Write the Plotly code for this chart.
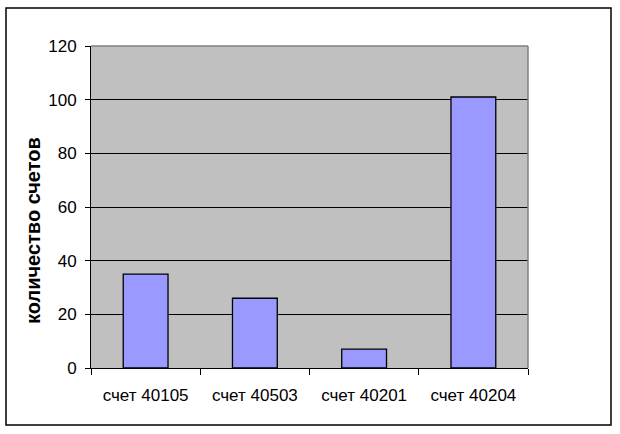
import plotly.graph_objects as go

categories = ["счет 40105", "счет 40503", "счет 40201", "счет 40204"]
values = [35, 26, 7, 101]
y_ticks = [0, 20, 40, 60, 80, 100, 120]
y_title = "количество счетов"

W, H = 620, 434
L, R, T, B = 91, 528, 46, 368
pw, ph = R - L, B - T

fig = go.Figure()
fig.add_trace(go.Bar(
    x=categories, y=values,
    marker=dict(color="#9999FF", line=dict(color="black", width=1.3)),
    width=0.41,
))

fig.update_layout(
    width=W, height=H,
    margin=dict(l=L, r=W - R, t=T, b=H - B, pad=0),
    paper_bgcolor="white",
    plot_bgcolor="#C0C0C0",
    showlegend=False,
    font=dict(family="Arial, Liberation Sans, sans-serif", size=16, color="black"),
    xaxis=dict(
        type="category", tickson="boundaries", ticks="outside", ticklen=6,
        tickcolor="black", showline=True, linecolor="black", linewidth=1,
        showgrid=False, tickfont=dict(size=17), ticklabelstandoff=12,
        range=[-0.5, 3.5],
    ),
    yaxis=dict(
        range=[0, 120], tickvals=y_ticks, ticks="outside", ticklen=5,
        tickcolor="black", showline=True, linecolor="black", linewidth=1,
        showgrid=True, gridcolor="black", gridwidth=1, zeroline=False,
        tickfont=dict(size=17), ticklabelstandoff=5,
    ),
    annotations=[dict(
        text="<b>" + y_title + "</b>", textangle=-90,
        xref="paper", yref="paper",
        x=(33 - L) / pw, y=(B - 231) / ph,
        xanchor="center", yanchor="middle", showarrow=False,
        font=dict(size=20, family="Arial, Liberation Sans, sans-serif"),
    )],
    shapes=[
        dict(type="rect", xref="paper", yref="paper",
             x0=(6 - L) / pw, x1=(611 - L) / pw,
             y0=(B - 425) / ph, y1=(B - 8) / ph,
             line=dict(color="black", width=1.5), fillcolor="rgba(0,0,0,0)", layer="below"),
        dict(type="line", xref="paper", yref="paper", x0=0, x1=1, y0=1, y1=1,
             line=dict(color="#808080", width=1.5)),
        dict(type="line", xref="paper", yref="paper", x0=1, x1=1, y0=0, y1=1,
             line=dict(color="#808080", width=1.5)),
    ],
)

fig.write_html(
    "out.html",
    config={"displayModeBar": False},
    post_script="document.body.style.margin='0';document.documentElement.style.overflow='hidden';",
)
